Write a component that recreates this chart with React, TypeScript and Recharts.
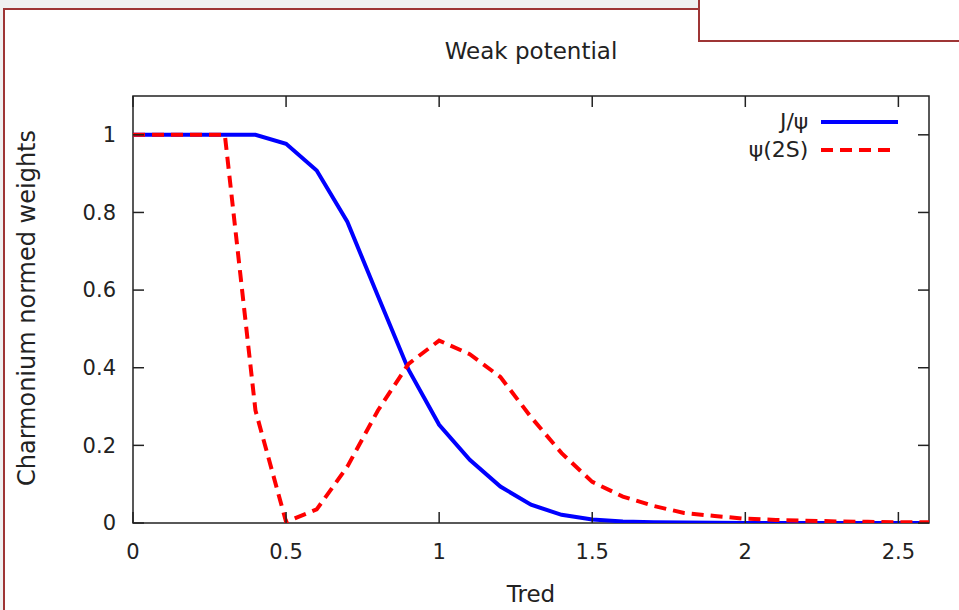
import React from "react";
import { LineChart, Line, XAxis, YAxis, Legend } from "recharts";

// Reduced temperature grid and normed weights of the two charmonium states
const tredValues = [
  0, 0.1, 0.2, 0.3, 0.4, 0.5, 0.6, 0.7, 0.8, 0.9, 1.0, 1.1, 1.2, 1.3, 1.4,
  1.5, 1.6, 1.7, 1.8, 1.9, 2.0, 2.1, 2.2, 2.3, 2.4, 2.5, 2.6,
];
const jpsiWeights = [
  1, 1, 1, 1, 1, 0.977, 0.908, 0.776, 0.585, 0.395, 0.253, 0.163, 0.094,
  0.047, 0.021, 0.009, 0.004, 0.002, 0.001, 0.0005, 0, 0, 0, 0, 0, 0, 0,
];
const psi2sWeights = [
  1, 1, 1, 1, 0.29, 0.003, 0.035, 0.145, 0.29, 0.41, 0.47, 0.435, 0.376,
  0.273, 0.18, 0.106, 0.068, 0.044, 0.026, 0.018, 0.011, 0.008, 0.006, 0.004,
  0.003, 0.002, 0.002,
];
const xTicks = [0, 0.5, 1, 1.5, 2, 2.5];
const yTicks = [0, 0.2, 0.4, 0.6, 0.8, 1];

const data = tredValues.map((t, i) => ({
  tred: t,
  jpsi: jpsiWeights[i],
  psi2s: psi2sWeights[i],
}));

const W = 959;
const H = 610;
const PLOT = { left: 133, top: 96, right: 929, bottom: 523 };
const FONT = "'DejaVu Sans', sans-serif";
const TEXT = "#222";
const FRAME = "#9e3535";
const TICK_LEN = 11;

const XTick = (props: any) => {
  const { x, payload } = props;
  return (
    <g>
      <line x1={x} x2={x} y1={PLOT.bottom} y2={PLOT.bottom - TICK_LEN} stroke="#222" strokeWidth={1.5} />
      <line x1={x} x2={x} y1={PLOT.top} y2={PLOT.top + TICK_LEN} stroke="#222" strokeWidth={1.5} />
      <text x={x} y={PLOT.bottom + 29} dy="0.35em" textAnchor="middle" fill={TEXT} fontSize={21} fontFamily={FONT}>
        {payload.value}
      </text>
    </g>
  );
};

const YTick = (props: any) => {
  const { y, payload } = props;
  return (
    <g>
      <line x1={PLOT.left} x2={PLOT.left + TICK_LEN} y1={y} y2={y} stroke="#222" strokeWidth={1.5} />
      <line x1={PLOT.right} x2={PLOT.right - TICK_LEN} y1={y} y2={y} stroke="#222" strokeWidth={1.5} />
      <text x={PLOT.left - 17} y={y} dy="0.35em" textAnchor="end" fill={TEXT} fontSize={21} fontFamily={FONT}>
        {payload.value}
      </text>
    </g>
  );
};

// axis titles ignore the viewBox recharts hands to labels
const XTitle = () => (
  <text x={(PLOT.left + PLOT.right) / 2} y={594} dy="0.35em" textAnchor="middle" fill={TEXT} fontSize={23} fontFamily={FONT}>
    Tred
  </text>
);

const YTitle = () => (
  <text
    x={27}
    y={308}
    dy="0.35em"
    textAnchor="middle"
    transform="rotate(-90, 27, 308)"
    fill={TEXT}
    fontSize={24}
    fontFamily={FONT}
  >
    Charmonium normed weights
  </text>
);

const legendItems = [
  { label: "J/ψ", color: "#0000ff", dash: undefined, width: 77 },
  { label: "ψ(2S)", color: "#ff0000", dash: "12 7", width: 72 },
];

const renderLegend = () => (
  <div style={{ fontFamily: FONT, fontSize: 22, color: TEXT }}>
    {legendItems.map((it) => (
      <div key={it.label} style={{ display: "flex", alignItems: "center", height: 28 }}>
        <span style={{ width: 110, textAlign: "right", lineHeight: "28px" }}>{it.label}</span>
        <svg width={90} height={28} style={{ marginLeft: 13 }}>
          <line x1={0} x2={it.width} y1={14} y2={14} stroke={it.color} strokeWidth={4} strokeDasharray={it.dash} />
        </svg>
      </div>
    ))}
  </div>
);

export default function App() {
  return (
    <div style={{ position: "absolute", left: 0, top: 0, width: W, height: H, background: "#fff", overflow: "hidden" }}>
      {/* page frame */}
      <div style={{ position: "absolute", left: 0, top: 0, width: 699, height: 9, background: "#f0f0f0" }} />
      <div style={{ position: "absolute", left: 0, top: 9, width: 4, height: H, background: "#f0f0f0" }} />
      <div style={{ position: "absolute", left: 3, top: 8, width: 697, height: 2, background: FRAME }} />
      <div style={{ position: "absolute", left: 3, top: 8, width: 2, height: H, background: FRAME }} />
      <div style={{ position: "absolute", left: 698, top: 0, width: 2, height: 42, background: FRAME }} />
      <div style={{ position: "absolute", left: 698, top: 40, width: W - 698, height: 2, background: FRAME }} />

      <div style={{ position: "absolute", left: 0, top: 0 }}>
        <LineChart
          width={W}
          height={H}
          data={data}
          margin={{ top: PLOT.top, right: W - PLOT.right, bottom: 0, left: 0 }}
        >
          <text x={(PLOT.left + PLOT.right) / 2} y={51} dy="0.35em" textAnchor="middle" fill={TEXT} fontSize={23} fontFamily={FONT}>
            Weak potential
          </text>
          <XAxis
            dataKey="tred"
            type="number"
            domain={[0, 2.6]}
            allowDataOverflow
            ticks={xTicks}
            height={H - PLOT.bottom}
            axisLine={false}
            tickLine={false}
            tick={<XTick />}
            interval={0}
            label={<XTitle />}
          />
          <YAxis
            type="number"
            domain={[0, 1.1]}
            allowDataOverflow
            ticks={yTicks}
            width={PLOT.left}
            axisLine={false}
            tickLine={false}
            tick={<YTick />}
            interval={0}
            label={<YTitle />}
          />
          <rect
            x={PLOT.left}
            y={PLOT.top}
            width={PLOT.right - PLOT.left}
            height={PLOT.bottom - PLOT.top}
            fill="none"
            stroke="#222"
            strokeWidth={1.5}
          />
          <Line
            type="linear"
            dataKey="jpsi"
            stroke="#0000ff"
            strokeWidth={4}
            dot={false}
            isAnimationActive={false}
          />
          <Line
            type="linear"
            dataKey="psi2s"
            stroke="#ff0000"
            strokeWidth={4}
            strokeDasharray="12 7"
            dot={false}
            isAnimationActive={false}
          />
          {/* horizontal + middle keeps the legend from reserving plot space */}
          <Legend
            layout="horizontal"
            align="center"
            verticalAlign="middle"
            content={renderLegend}
            wrapperStyle={{ top: 108, left: 700, width: 210 }}
          />
        </LineChart>
      </div>
    </div>
  );
}
